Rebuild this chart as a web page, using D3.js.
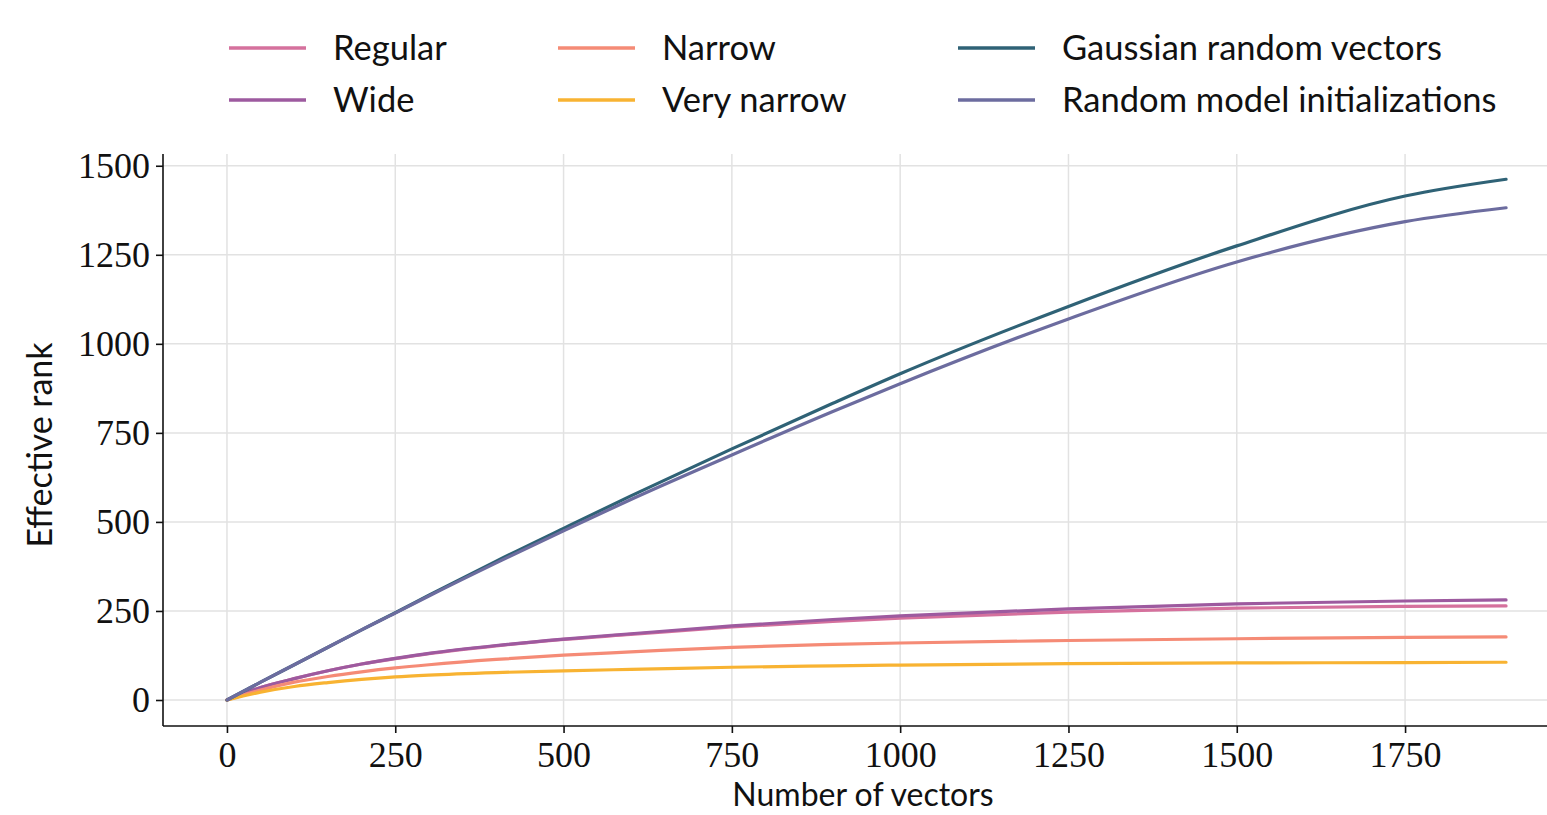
<!DOCTYPE html>
<html>
<head>
<meta charset="utf-8">
<script src="https://cdn.jsdelivr.net/npm/d3@7"></script>
<style>
  body { margin:0; background:#fff; }
  svg { display:block; }
</style>
</head>
<body>
<div id="chart"></div>
<script>
// x values (number of vectors)
var nVectors = [0, 50, 100, 150, 200, 250, 300, 400, 500, 600, 750, 900, 1000, 1250, 1500, 1750, 1900];

// effective rank per series
var regular     = [0, 35, 60, 82, 101, 116, 130, 152, 170, 184, 205, 221, 230, 247, 258, 263, 264];
var wide        = [0, 35, 60, 82, 101, 117, 131, 153, 171, 186, 208, 226, 236, 256, 270, 278, 281];
var narrow      = [0, 28, 50, 66, 79, 90, 99, 114, 126, 135, 148, 156, 160, 167, 172, 176, 177];
var veryNarrow  = [0, 22, 38, 49, 58, 65, 70, 77, 82, 86, 92, 96, 98, 102, 104, 105, 106];
var gaussian    = [0, 50, 99, 148, 197, 245, 294, 390, 482, 573, 705, 833, 916, 1105, 1275, 1415, 1462];
var randomInit  = [0, 50, 99, 148, 197, 244, 292, 385, 475, 563, 688, 810, 888, 1070, 1230, 1343, 1382];

var seriesNames = ["Regular", "Wide", "Narrow", "Very narrow", "Gaussian random vectors", "Random model initializations"];
var seriesVals  = [regular, wide, narrow, veryNarrow, gaussian, randomInit];
var colors      = ["#d5719d", "#9d5a9f", "#f58b76", "#f8b332", "#2f6276", "#6c6c9f"];

var xTicks = [0, 250, 500, 750, 1000, 1250, 1500, 1750];
var yTicks = [0, 250, 500, 750, 1000, 1250, 1500];

var W = 1547, H = 815;
var mLeft = 163, mRight = 1570, mTop = 154, mBottom = 726;

var svg = d3.select("#chart").append("svg")
    .attr("width", W)
    .attr("height", H);

var x = d3.scaleLinear().domain([-95, 1995]).range([mLeft, mRight]);
var y = d3.scaleLinear().domain([-73, 1533]).range([mBottom, mTop]);

/** grid **/
var grid = svg.append("g").attr("class", "grid");
grid.selectAll(".vgrid").data(xTicks).enter().append("line")
    .attr("x1", function(d){ return x(d); })
    .attr("x2", function(d){ return x(d); })
    .attr("y1", mTop).attr("y2", mBottom)
    .style("stroke", "#e2e2e2").style("stroke-width", 1.5);
grid.selectAll(".hgrid").data(yTicks).enter().append("line")
    .attr("x1", mLeft).attr("x2", W)
    .attr("y1", function(d){ return y(d); })
    .attr("y2", function(d){ return y(d); })
    .style("stroke", "#e2e2e2").style("stroke-width", 1.5);

/** lines **/
var line = d3.line()
    .x(function(d, i){ return x(nVectors[i]); })
    .y(function(d){ return y(d); })
    .curve(d3.curveMonotoneX);

// draw in legend order so the dark lines end up on top
seriesVals.forEach(function(vals, k){
  svg.append("path")
    .datum(vals)
    .attr("fill", "none")
    .attr("stroke", colors[k])
    .attr("stroke-width", 3.2)
    .attr("stroke-linecap", "round")
    .attr("d", line);
});

/** axes **/
var xAxis = d3.axisBottom(x).tickValues(xTicks).tickSize(7).tickPadding(6).tickFormat(d3.format("d"));
var yAxis = d3.axisLeft(y).tickValues(yTicks).tickSize(7).tickPadding(6).tickFormat(d3.format("d"));

var gx = svg.append("g").attr("transform", "translate(0," + mBottom + ")").call(xAxis);
var gy = svg.append("g").attr("transform", "translate(" + mLeft + ",0)").call(yAxis);

[gx, gy].forEach(function(g){
  g.select(".domain").attr("stroke", "#111").attr("stroke-width", 1.6);
  g.selectAll(".tick line").attr("stroke", "#111").attr("stroke-width", 1.6);
  g.selectAll(".tick text")
    .style("font-family", "'Liberation Serif', 'DejaVu Serif', serif")
    .style("font-size", "36px")
    .style("fill", "#111");
});
gx.select(".domain").attr("d", "M" + mLeft + ",0H" + W);
gy.select(".domain").attr("d", "M0," + mTop + "V" + mBottom);
gx.selectAll(".tick text").attr("dy", "0.78em");
gy.selectAll(".tick text").attr("dy", "0.33em");

/** axis labels **/
var sans = "'Lato', 'Open Sans', sans-serif";
svg.append("text")
  .attr("x", 863).attr("y", 806)
  .attr("text-anchor", "middle")
  .style("font-family", sans).style("font-size", "32px").style("fill", "#111")
  .text("Number of vectors");

svg.append("text")
  .attr("transform", "translate(52,445) rotate(-90)")
  .attr("text-anchor", "middle")
  .style("font-family", sans).style("font-size", "34px").style("fill", "#111")
  .text("Effective rank");

/** legend **/
var legendPos = [
  {lx: 229, tx: 333, ly: 48},
  {lx: 229, tx: 333, ly: 100},
  {lx: 558, tx: 662, ly: 48},
  {lx: 558, tx: 662, ly: 100},
  {lx: 958, tx: 1062, ly: 48},
  {lx: 958, tx: 1062, ly: 100}
];
var legend = svg.append("g").attr("class", "legend");
seriesNames.forEach(function(name, k){
  var p = legendPos[k];
  legend.append("line")
    .attr("x1", p.lx).attr("x2", p.lx + 77)
    .attr("y1", p.ly).attr("y2", p.ly)
    .attr("stroke", colors[k]).attr("stroke-width", 3.5);
  legend.append("text")
    .attr("x", p.tx).attr("y", p.ly)
    .attr("dy", "0.35em")
    .style("font-family", sans).style("font-size", "34.5px").style("fill", "#111")
    .text(name);
});
</script>
</body>
</html>
